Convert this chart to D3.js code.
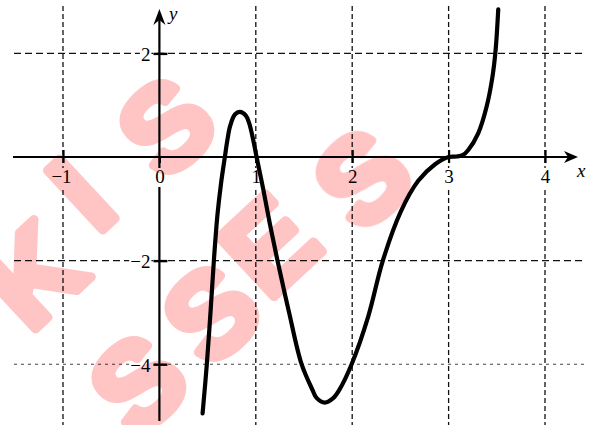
<!DOCTYPE html>
<html>
<head>
<meta charset="utf-8">
<script src="https://cdn.jsdelivr.net/npm/d3@7"></script>
<style>
  html, body { margin: 0; padding: 0; background: #fff; overflow: hidden; }
  svg { display: block; }
</style>
</head>
<body>
<svg id="chart" width="590" height="425"></svg>
<script>
// Sampled points of the plotted function
const curveX = [0.448, 0.492, 0.530, 0.565, 0.603, 0.640, 0.679, 0.703, 0.734, 0.783, 0.835,
                0.897, 0.932, 0.973, 1.008, 1.077, 1.145, 1.225, 1.345, 1.475, 1.589, 1.630,
                1.717, 1.800, 1.865, 1.994, 2.166, 2.318, 2.505, 2.685, 2.860, 3.000, 3.083,
                3.150, 3.204, 3.307, 3.394, 3.455, 3.487, 3.515];
const curveY = [-4.95, -4.00, -3.00, -2.00, -1.10, -0.50, 0.00, 0.30, 0.60, 0.82, 0.87,
                0.80, 0.65, 0.33, 0.00, -0.62, -1.28, -2.00, -3.00, -4.00, -4.50, -4.65,
                -4.74, -4.66, -4.50, -4.00, -3.08, -2.00, -1.05, -0.46, -0.14, 0.00, 0.01,
                0.04, 0.135, 0.457, 0.97, 1.55, 2.05, 2.85];

// Axis ticks and grid positions
const xTicks = [-1, 0, 1, 2, 3, 4];
const yTicks = [2, -2, -4];
const xGrid = [-1, 1, 2, 3, 4];
const yGrid = [2, -2, -4];

// Watermark rows
const markRows = [
  { letters: ["S", "S", "E", "S"], centers: [[137, 382], [210, 312], [268, 244], [362, 178]] },
  { letters: ["K", "I", "S"], centers: [[32, 274], [80, 193], [165, 125]] }
];

const W = 590, H = 425;
const svg = d3.select("#chart");

const x = d3.scaleLinear().domain([-1, 4]).range([63, 545]);
const y = d3.scaleLinear().domain([-4, 2]).range([364.2, 53.4]);

const X0 = x(0), Y0 = y(0);
const serif = "'Liberation Serif', 'Times New Roman', serif";

// Dashed grid
const grid = svg.append("g").attr("stroke", "#111").attr("fill", "none");
grid.selectAll("line.v").data(xGrid).join("line")
  .attr("class", "v")
  .attr("x1", d => x(d)).attr("x2", d => x(d))
  .attr("y1", 6).attr("y2", H)
  .attr("stroke-width", 1.3)
  .attr("stroke-dasharray", "5,3");
grid.selectAll("line.h").data(yGrid).join("line")
  .attr("class", "h")
  .attr("y1", d => y(d)).attr("y2", d => y(d))
  .attr("x1", 14).attr("x2", 584)
  .attr("stroke-width", d => d === -4 ? 1.1 : 1.3)
  .attr("stroke", d => d === -4 ? "#444" : "#111")
  .attr("stroke-dasharray", d => d === -4 ? "3,4" : "7,4");

// Axis lines with arrowheads
const axes = svg.append("g");
axes.append("line")
  .attr("x1", 13).attr("x2", 568).attr("y1", Y0).attr("y2", Y0)
  .attr("stroke", "#000").attr("stroke-width", 2.2);
axes.append("path")
  .attr("d", `M${578},${Y0} L${564},${Y0 - 6} L${568},${Y0} L${564},${Y0 + 6} Z`)
  .attr("fill", "#000");
axes.append("line")
  .attr("x1", X0).attr("x2", X0).attr("y1", 19).attr("y2", 421)
  .attr("stroke", "#000").attr("stroke-width", 2.2);
axes.append("path")
  .attr("d", `M${X0},${9} L${X0 - 6},${25} L${X0},${20} L${X0 + 6},${25} Z`)
  .attr("fill", "#000");

// Knock out the lines behind a tick label
function knockout(sel) {
  sel.each(function () {
    const b = this.getBBox();
    d3.select(this.parentNode).insert("rect", "text")
      .attr("x", b.x - 1).attr("y", b.y + 2)
      .attr("width", b.width + 2).attr("height", b.height - 2)
      .attr("fill", "#fff");
  });
}

// x axis ticks and labels
const gx = svg.append("g")
  .attr("transform", `translate(0,${Y0})`)
  .call(d3.axisBottom(x).tickValues(xTicks).tickSize(6).tickFormat(d3.format("d")));
gx.select(".domain").remove();
gx.selectAll(".tick line")
  .attr("y1", d => d === 0 ? 0 : -7).attr("y2", 6)
  .attr("stroke", "#000").attr("stroke-width", 2.2);
gx.selectAll(".tick text")
  .attr("y", 26).attr("dy", null)
  .attr("dx", d => d < 0 ? -2 : 0)
  .attr("fill", "#000")
  .style("font-family", serif).style("font-size", "19px");
knockout(gx.selectAll(".tick text"));

// y axis ticks and labels
const gy = svg.append("g")
  .attr("transform", `translate(${X0},0)`)
  .call(d3.axisLeft(y).tickValues(yTicks).tickSize(6).tickFormat(d3.format("d")));
gy.select(".domain").remove();
gy.selectAll(".tick line")
  .attr("x1", -6).attr("x2", 8)
  .attr("stroke", "#000").attr("stroke-width", 2.4);
gy.selectAll(".tick text")
  .attr("x", -9).attr("dy", null).attr("y", 7)
  .attr("fill", "#000")
  .style("font-family", serif).style("font-size", "19px");
knockout(gy.selectAll(".tick text"));

// Axis names
svg.append("text").attr("x", 169).attr("y", 20)
  .style("font-family", serif).style("font-style", "italic").style("font-size", "19px")
  .text("y");
svg.append("text").attr("x", 577).attr("y", 177)
  .style("font-family", serif).style("font-style", "italic").style("font-size", "19px")
  .text("x");

// The function curve
const pts = curveX.map((v, i) => [v, curveY[i]]);
svg.append("path")
  .datum(pts)
  .attr("fill", "none")
  .attr("stroke", "#000")
  .attr("stroke-width", 4.2)
  .attr("stroke-linecap", "round")
  .attr("stroke-linejoin", "round")
  .attr("d", d3.line().x(d => x(d[0])).y(d => y(d[1])).curve(d3.curveCatmullRom.alpha(0.5)));

// Pink watermark, multiplied over the drawing
const wm = svg.append("g").style("mix-blend-mode", "multiply");
markRows.forEach(row => {
  row.letters.forEach((ch, i) => {
    const [cx, cy] = row.centers[i];
    wm.append("text")
      .attr("transform", `translate(${cx},${cy}) rotate(-43)`)
      .attr("text-anchor", "middle")
      .attr("dy", "0.36em")
      .attr("fill", "#ffc4c4")
      .attr("stroke", "#ffc4c4")
      .attr("stroke-width", 9)
      .attr("stroke-linejoin", "round")
      .style("font-family", "'Liberation Sans', Arial, sans-serif")
      .style("font-weight", "bold")
      .style("font-size", "118px")
      .text(ch);
  });
});
</script>
</body>
</html>
